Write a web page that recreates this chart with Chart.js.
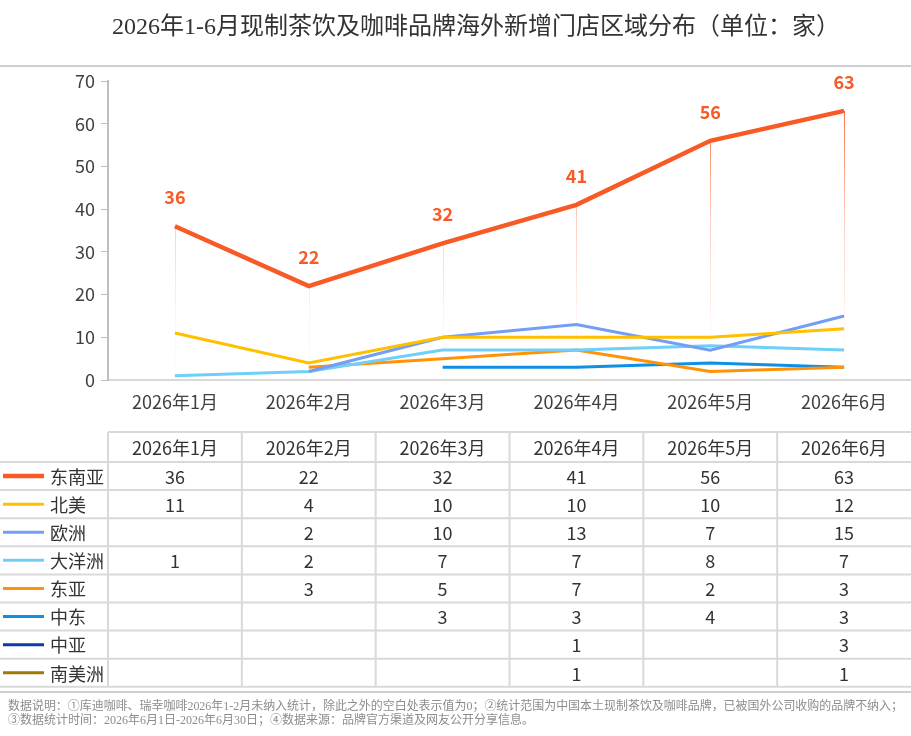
<!DOCTYPE html>
<html>
<head>
<meta charset="utf-8">
<script src="https://cdn.jsdelivr.net/npm/chart.js@4/dist/chart.umd.min.js"></script>
<style>
  html, body { margin: 0; padding: 0; background: #fff; }
  #wrap { width: 911px; height: 736px; }
</style>
</head>
<body>
<div id="wrap"><canvas id="c" width="911" height="736"></canvas></div>
<script>
// ---- data ----
const months = ['2026年1月', '2026年2月', '2026年3月', '2026年4月', '2026年5月', '2026年6月'];
const regions = ['东南亚', '北美', '欧洲', '大洋洲', '东亚', '中东', '中亚', '南美洲'];
const southeastAsia = [36, 22, 32, 41, 56, 63];
const northAmerica = [11, 4, 10, 10, 10, 12];
const europe = [null, 2, 10, 13, 7, 15];
const oceania = [1, 2, 7, 7, 8, 7];
const eastAsia = [null, 3, 5, 7, 2, 3];
const middleEast = [null, null, 3, 3, 4, 3];
const centralAsia = [null, null, null, 1, null, 3];
const southAmerica = [null, null, null, 1, null, 1];
const yTicks = [0, 10, 20, 30, 40, 50, 60, 70];

const seriesValues = [southeastAsia, northAmerica, europe, oceania, eastAsia, middleEast, centralAsia, southAmerica];
const seriesColors = ['#F85A26', '#FFC000', '#739EF6', '#6FCFF8', '#FF9305', '#0E90E6', '#0A3BA8', '#9E7A06'];

const titleText = '2026年1-6月现制茶饮及咖啡品牌海外新增门店区域分布（单位：家）';
const noteLine1 = '数据说明：①库迪咖啡、瑞幸咖啡2026年1-2月未纳入统计，除此之外的空白处表示值为0；②统计范围为中国本土现制茶饮及咖啡品牌，已被国外公司收购的品牌不纳入；';
const noteLine2 = '③数据统计时间：2026年6月1日-2026年6月30日；④数据来源：品牌官方渠道及网友公开分享信息。';

const SANS = '"Noto Sans CJK SC", "Noto Sans", sans-serif';
const SERIF = '"Liberation Serif", "DejaVu Serif", "Noto Sans CJK SC", serif';
const GRID = '#d9d9d9';

const datasets = regions.map((name, i) => ({
    label: name,
    data: seriesValues[i],
    borderColor: seriesColors[i],
    backgroundColor: seriesColors[i],
    borderWidth: i === 0 ? 4.5 : 3,
    pointRadius: 0,
    pointHoverRadius: 0,
    tension: 0,
    spanGaps: false
}));

// drop lines, labels, title, data table and footnote
const decorPlugin = {
    id: 'decor',
    beforeDraw(chart) {
        const ctx = chart.ctx;
        ctx.save();
        ctx.fillStyle = '#fff';
        ctx.fillRect(0, 0, chart.width, chart.height);
        ctx.restore();
    },
    beforeDatasetsDraw(chart) {
        const ctx = chart.ctx;
        const area = chart.chartArea;
        const meta = chart.getDatasetMeta(0);
        const grad = ctx.createLinearGradient(0, area.top, 0, area.bottom);
        grad.addColorStop(0, 'rgba(248,90,38,1)');
        grad.addColorStop(0.45, 'rgba(248,90,38,0.3)');
        grad.addColorStop(0.8, 'rgba(248,90,38,0.06)');
        grad.addColorStop(1, 'rgba(248,90,38,0.02)');
        ctx.save();
        ctx.strokeStyle = grad;
        ctx.lineWidth = 1;
        meta.data.forEach(pt => {
            ctx.beginPath();
            ctx.moveTo(Math.round(pt.x) + 0.5, pt.y);
            ctx.lineTo(Math.round(pt.x) + 0.5, area.bottom);
            ctx.stroke();
        });
        ctx.restore();
    },
    afterDatasetsDraw(chart) {
        const ctx = chart.ctx;
        const meta = chart.getDatasetMeta(0);
        ctx.save();
        ctx.font = 'bold 18px ' + SANS;
        ctx.fillStyle = seriesColors[0];
        ctx.textAlign = 'center';
        ctx.textBaseline = 'middle';
        meta.data.forEach((pt, i) => {
            ctx.fillText(String(southeastAsia[i]), pt.x, pt.y - 29);
        });
        ctx.restore();
    },
    afterDraw(chart) {
        const ctx = chart.ctx;
        const xs = chart.scales.x;
        const W = chart.width;
        const colW = (xs.right - xs.left) / months.length;

        ctx.save();
        // title
        ctx.font = '24px ' + SERIF;
        ctx.fillStyle = '#333';
        ctx.textAlign = 'center';
        ctx.textBaseline = 'middle';
        ctx.fillText(titleText, 476, 28);

        ctx.strokeStyle = '#d0d0d0';
        ctx.lineWidth = 2;
        ctx.beginPath();
        ctx.moveTo(0, 66);
        ctx.lineTo(W, 66);
        ctx.stroke();

        // data table
        const tTop = 432, headH = 30, rowH = 28.1;
        const tBottom = tTop + headH + rowH * regions.length;
        ctx.strokeStyle = GRID;
        ctx.lineWidth = 2;
        ctx.beginPath();
        ctx.moveTo(xs.left, tTop);
        ctx.lineTo(W, tTop);
        for (let r = 0; r <= regions.length; r++) {
            const y = tTop + headH + r * rowH;
            ctx.moveTo(0, y);
            ctx.lineTo(W, y);
        }
        for (let c = 0; c < months.length; c++) {
            const x = xs.left + c * colW;
            ctx.moveTo(x, tTop);
            ctx.lineTo(x, tBottom);
        }
        ctx.stroke();

        ctx.font = '18px ' + SANS;
        ctx.fillStyle = '#333';
        ctx.textAlign = 'center';
        ctx.textBaseline = 'middle';
        months.forEach((m, c) => {
            ctx.fillText(m, xs.getPixelForValue(c), tTop + headH / 2 + 1);
        });
        regions.forEach((name, r) => {
            const cy = tTop + headH + r * rowH + rowH / 2 + 1;
            // legend key
            ctx.strokeStyle = seriesColors[r];
            ctx.lineWidth = r === 0 ? 4.5 : 3;
            ctx.beginPath();
            ctx.moveTo(3, cy - 1);
            ctx.lineTo(44, cy - 1);
            ctx.stroke();
            ctx.textAlign = 'left';
            ctx.fillText(name, 50, cy);
            ctx.textAlign = 'center';
            seriesValues[r].forEach((v, c) => {
                if (v !== null) ctx.fillText(String(v), xs.getPixelForValue(c), cy);
            });
        });

        // footnote
        ctx.strokeStyle = '#d0d0d0';
        ctx.lineWidth = 2;
        ctx.beginPath();
        ctx.moveTo(0, 692);
        ctx.lineTo(W, 692);
        ctx.stroke();

        ctx.font = '12px ' + SERIF;
        ctx.fillStyle = '#8c8c8c';
        ctx.textAlign = 'left';
        ctx.fillText(noteLine1, 8, 707, 895);
        ctx.fillText(noteLine2, 8, 721, 895);
        ctx.restore();
    }
};

new Chart(document.getElementById('c'), {
    type: 'line',
    data: { labels: months, datasets: datasets },
    options: {
        responsive: false,
        animation: false,
        devicePixelRatio: 1,
        layout: { padding: { top: 81, left: 0, right: 0, bottom: 310 } },
        plugins: {
            legend: { display: false },
            title: { display: false },
            tooltip: { enabled: false }
        },
        scales: {
            x: {
                offset: true,
                grid: { display: false, drawTicks: false },
                border: { color: GRID, width: 2 },
                ticks: {
                    color: '#404040',
                    font: { size: 18, family: SANS },
                    padding: 11,
                    maxRotation: 0
                },
                afterFit(scale) { scale.height = 46; }
            },
            y: {
                min: 0,
                max: 70,
                afterBuildTicks(scale) { scale.ticks = yTicks.map(v => ({ value: v })); },
                grid: { drawOnChartArea: false, drawTicks: true, tickLength: 7, color: '#bfbfbf' },
                border: { color: '#bfbfbf', width: 2 },
                ticks: {
                    color: '#404040',
                    font: { size: 18, family: SANS },
                    padding: 6
                },
                afterFit(scale) { scale.width = 108; }
            }
        }
    },
    plugins: [decorPlugin]
});
</script>
</body>
</html>
